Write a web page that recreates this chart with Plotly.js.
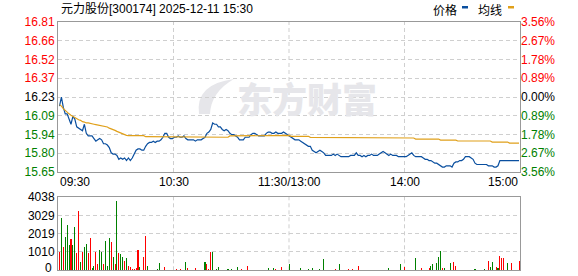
<!DOCTYPE html>
<html><head><meta charset="utf-8">
<script src="https://cdn.plot.ly/plotly-3.0.1.min.js"></script>
<style>html,body{margin:0;padding:0;background:#fff}#chart{width:578px;height:276px}</style>
</head><body><div id="chart"></div>
<script>
// ---------------- data ----------------
const chartTitle = '元力股份[300174] 2025-12-11 15:30';
const preClose = 16.23;
const pctTicks = [3.56, 2.67, 1.78, 0.89, 0, -0.89, -1.78, -2.67, -3.56];
const priceTickText = ['16.81','16.66','16.52','16.37','16.23','16.09','15.94','15.80','15.65'];
const pctTickText = ['3.56%','2.67%','1.78%','0.89%','0.00%','0.89%','1.78%','2.67%','3.56%'];
const volTicks = [0, 1010, 2019, 3029, 4038];
const volTickText = ['0','1010','2019','3029','4038'];
const timeLabels = ['09:30','10:30','11:30/13:00','14:00','15:00'];
const legendNames = ['价格','均线'];

const price = [
16.16,16.23,16.15,16.10,16.10,16.05,16.02,16.08,16.06,16.00,
15.99,15.98,15.97,16.02,15.95,15.93,15.93,15.93,15.91,15.89,
15.90,15.91,15.90,15.87,15.87,15.86,15.84,15.80,15.79,15.79,
15.78,15.75,15.76,15.75,15.76,15.74,15.76,15.74,15.76,15.79,
15.82,15.83,15.83,15.82,15.82,15.85,15.87,15.88,15.88,15.89,
15.88,15.89,15.89,15.90,15.92,15.95,15.95,15.92,15.91,15.91,
15.92,15.92,15.93,15.92,15.92,15.93,15.91,15.90,15.90,15.90,
15.90,15.89,15.90,15.90,15.90,15.91,15.92,15.95,15.96,15.98,
16.03,16.02,16.02,16.00,16.00,15.98,15.97,15.98,15.97,15.95,
15.94,15.94,15.93,15.92,15.90,15.90,15.90,15.92,15.92,15.92,
15.94,15.95,15.95,15.94,15.93,15.93,15.93,15.93,15.95,15.96,
15.96,15.95,15.95,15.96,15.95,15.95,15.95,15.96,15.95,15.94,
15.93,15.92,15.91,15.90,15.90,15.90,15.89,15.88,15.87,15.86,
15.85,15.85,15.82,15.81,15.80,15.81,15.82,15.81,15.80,15.78,
15.78,15.78,15.78,15.79,15.78,15.79,15.78,15.77,15.77,15.77,
15.77,15.77,15.78,15.78,15.78,15.80,15.78,15.78,15.77,
15.78,15.77,15.78,15.78,15.79,15.78,15.78,15.78,15.79,15.80,
15.81,15.80,15.79,15.78,15.79,15.78,15.78,15.78,15.77,15.77,
15.77,15.77,15.77,15.78,15.79,15.80,15.78,15.77,15.77,15.77,
15.77,15.76,15.75,15.75,15.74,15.74,15.73,15.72,15.72,15.71,
15.70,15.69,15.69,15.70,15.70,15.70,15.69,15.72,15.73,15.73,
15.74,15.74,15.75,15.77,15.77,15.77,15.76,15.75,15.72,15.71,
15.71,15.71,15.71,15.71,15.71,15.70,15.70,15.70,15.69,15.69,
15.70,15.74,15.74,15.74,15.74,15.74,15.74,15.74,15.74,15.74,
15.74,15.74
];

const avgPrice = [
16.17,16.16,16.14,16.125,16.11,16.10,16.09,16.08,16.07,16.063,
16.055,16.05,16.04,16.037,16.03,16.03,16.025,16.02,16.02,16.017,
16.014,16.012,16.01,16.004,16.00,15.999,15.99,15.986,15.98,15.973,
15.965,15.958,15.95,15.942,15.937,15.934,
15.932,15.932,15.932,15.932,15.932,15.932,15.932,15.932,15.932,
15.924,15.924,15.924,15.924,15.924,15.924,15.924,15.924,15.924,15.924,15.924,15.924,15.924,15.924,15.924,
15.92,15.92,15.92,15.92,15.92,15.92,15.92,15.92,15.92,15.92,
15.92,15.92,15.92,15.92,15.92,15.92,15.92,15.92,15.92,15.92,
15.92,15.92,15.92,15.92,15.92,15.92,15.92,15.92,15.92,
15.93,15.93,15.93,15.93,15.93,15.93,15.93,15.93,15.93,15.93,
15.93,15.93,15.93,15.93,15.93,15.93,15.93,15.93,15.93,15.93,15.93,
15.934,15.934,15.934,15.934,15.934,15.934,15.934,15.934,15.934,15.934,15.934,
15.927,15.927,15.927,15.927,15.927,15.927,15.927,15.927,15.927,15.927,
15.919,15.919,15.919,15.919,15.919,15.919,15.919,15.919,15.919,15.919,15.919,15.919,
15.919,15.919,15.919,15.919,15.919,15.919,15.919,15.919,15.919,15.919,15.919,15.919,
15.914,15.914,15.914,15.914,15.914,15.914,15.914,15.914,15.914,15.914,
15.914,15.914,15.914,15.914,15.914,15.914,15.914,15.914,15.914,15.914,
15.914,15.914,15.914,15.914,15.914,15.914,15.914,15.914,15.914,15.914,15.914,
15.906,15.906,15.906,15.906,15.906,15.906,15.906,15.906,15.906,15.906,15.906,15.906,15.906,
15.898,15.898,15.898,15.898,15.898,15.898,15.898,15.898,15.898,
15.891,15.891,15.891,15.891,15.891,15.891,15.891,15.891,15.891,
15.891,15.891,15.891,15.891,15.891,15.891,15.891,15.891,15.891,
15.883,15.883,15.883,15.883,15.883,15.883,15.883,15.883,15.883,
15.875,15.875,15.875,15.875,15.875,15.875
];

const volume = [
1030,2900,1310,1830,2490,1380,1700,1380,2390,970,
3290,430,990,1270,1440,935,1780,150,260,990,
320,1100,990,320,1610,260,1780,1550,710,320,
3800,935,880,710,490,655,260,205,94,94,
150,1100,205,37,710,1890,260,37,37,
37,37,94,375,37,37,205,37,37,37,
37,37,94,37,94,37,37,430,150,37,
37,37,150,37,37,37,37,430,320,94,
990,990,37,94,205,37,37,37,37,94,
37,94,37,37,205,37,94,37,37,260,37,37,
37,
37,37,37,37,37,37,37,150,37,37,
150,94,37,37,205,37,37,37,320,37,
37,37,37,37,150,37,37,37,94,37,
150,37,37,37,94,37,600,37,37,37,
37,37,94,37,320,37,37,37,37,94,
37,94,37,37,260,37,
37,37,37,37,37,
37,37,37,37,37,37,37,37,37,150,
37,37,37,37,37,320,37,205,37,37,
37,37,37,655,37,37,150,37,37,37,
150,260,320,37,375,710,1050,150,150,37,
37,375,37,430,260,37,37,37,37,37,
37,
37,37,37,94,37,37,37,37,94,37,
490,205,430,37,205,150,770,655,655,37,
375,37,375,37,37,37,490
];

// r = up (red), g = down (green)
const volDir = (
'rgrgggrggr'+'rgrggrrggr'+'rggrgggrgr'+'grggrgrrrr'+'rrgrrrgg'+'g'+'ggggrrrggg'+'rgrgrrrgrg'+'ggrrrrrgrr'+
'rggggrrrgg'+'rgrrgrrggrgg'+'g'+'grgrrrrgrr'+'grggrgrggg'+'gggggggggr'+'grrrgrgrrr'+'rrrrgrrrrr'+'rrrgrg'+
'rrrr'+'r'+'gggrrrrrrg'+'ggrrrgrrrr'+'rrrgrrrggr'+'rggrgggrgr'+'rgrrrrrrrr'+'r'+'rrrggrgrgr'+'rggrrgrrrr'+'grrrrrr'
).split('');

// ---------------- drawing ----------------
const UP = '#ff0000', DOWN = '#008000', FLAT = '#000000';
const BLUE = '#0a4f9f', ORANGE = '#e0a01a';
const W = 578, H = 276;
const minutes = price.map((_, i) => i);
const hi = preClose * (1 + pctTicks[0] / 100);
const lo = preClose * (1 + pctTicks[pctTicks.length - 1] / 100);
const priceTickVals = pctTicks.map(p => preClose * (1 + p / 100));
const tickColor = p => p > 0 ? UP : (p < 0 ? DOWN : FLAT);
const span = (t, c) => '<span style="color:' + c + '">' + t + '</span>';

const xr = [-0.78, 240.5];
const L = 58 / W, R = 520 / W;
const pyTop = 22, pyBot = 172, vyTop = 197, vyBot = 270.3;
const px = x => x / W, py = y => 1 - y / H;

const traces = [
  {x: minutes, y: price, type: 'scatter', mode: 'lines', xaxis: 'x', yaxis: 'y',
   line: {color: BLUE, width: 1.2}, hoverinfo: 'skip'},
  {x: minutes, y: avgPrice, type: 'scatter', mode: 'lines', xaxis: 'x', yaxis: 'y2',
   line: {color: ORANGE, width: 1.2}, hoverinfo: 'skip'},
  {x: minutes, y: volume, type: 'bar', xaxis: 'x2', yaxis: 'y3', width: 0.55,
   marker: {color: volDir.map(d => d === 'r' ? UP : DOWN), line: {width: 0}}, hoverinfo: 'skip'}
];

const gridCol = '#cfcfcf', borderCol = '#999999', dash = '4px,3px';
const axisFont = {family: 'Liberation Sans, Arial, sans-serif', size: 12, color: '#000'};

const vLines = [0.25, 0.5, 0.75];
const shapes = [];
vLines.forEach(f => {
  shapes.push({type: 'line', xref: 'x domain', yref: 'y domain', x0: f, x1: f, y0: 0, y1: 1,
    line: {color: gridCol, width: 1, dash: dash}, layer: 'below'});
  shapes.push({type: 'line', xref: 'x2 domain', yref: 'y3 domain', x0: f, x1: f, y0: 0, y1: 1,
    line: {color: gridCol, width: 1, dash: dash}, layer: 'below'});
});
// legend swatches
shapes.push({type: 'rect', xref: 'paper', yref: 'paper', x0: px(462), x1: px(468), y0: py(8.5), y1: py(6), fillcolor: BLUE, line: {width: 0}});
shapes.push({type: 'rect', xref: 'paper', yref: 'paper', x0: px(508), x1: px(514), y0: py(8.5), y1: py(6), fillcolor: ORANGE, line: {width: 0}});
// watermark swoosh
const P = (x, y) => px(x).toFixed(4) + ',' + py(y).toFixed(4);
shapes.push({type: 'path', xref: 'paper', yref: 'paper', layer: 'below',
  path: 'M' + P(199, 114) + ' Q' + P(195, 84) + ' ' + P(234, 79) + ' Q' + P(211, 92) + ' ' + P(210, 114) + ' Z',
  fillcolor: '#e6e6ea', line: {width: 0}});

const annotations = [];
annotations.push({text: chartTitle, xref: 'paper', yref: 'paper', x: px(59), y: py(8.5), xanchor: 'left', yanchor: 'middle',
  showarrow: false, font: {family: 'Liberation Sans, Noto Sans CJK SC, sans-serif', size: 12, color: '#000'}});
annotations.push({text: legendNames[0], xref: 'paper', yref: 'paper', x: px(431), y: py(9), xanchor: 'left', yanchor: 'middle',
  showarrow: false, font: {family: 'Noto Sans CJK SC, sans-serif', size: 12, color: '#000'}});
annotations.push({text: legendNames[1], xref: 'paper', yref: 'paper', x: px(476), y: py(9), xanchor: 'left', yanchor: 'middle',
  showarrow: false, font: {family: 'Noto Sans CJK SC, sans-serif', size: 12, color: '#000'}});
annotations.push({text: '东方财富', xref: 'paper', yref: 'paper', x: px(307), y: py(97), xanchor: 'center', yanchor: 'middle',
  showarrow: false, font: {family: 'Noto Sans CJK SC, sans-serif', size: 35, color: '#e6e6ea', weight: 900}});
const tPos = [0, 0.25, 0.5, 0.75, 1], tAnc = ['left', 'center', 'center', 'center', 'right'];
timeLabels.forEach((t, k) => annotations.push({text: t, xref: 'x domain', yref: 'paper', x: tPos[k], y: py(181.5),
  xanchor: tAnc[k], yanchor: 'middle', showarrow: false, font: axisFont}));
// base label of the volume axis, kept fully inside the picture
annotations.push({text: volTickText[0], xref: 'paper', yref: 'paper', x: px(53), y: 0, xanchor: 'right', yanchor: 'bottom',
  showarrow: false, borderpad: 0, font: axisFont});

const layout = {
  width: W, height: H, margin: {l: 0, r: 0, t: 0, b: 0},
  paper_bgcolor: '#ffffff', plot_bgcolor: '#ffffff', showlegend: false, bargap: 0,
  font: axisFont,
  xaxis: {domain: [L, R], range: xr, anchor: 'y', showgrid: false, zeroline: false, showticklabels: false,
    ticks: '', showline: true, mirror: true, linecolor: borderCol, linewidth: 1, fixedrange: true},
  yaxis: {domain: [py(pyBot), py(pyTop)], range: [lo, hi], tickmode: 'array', tickvals: priceTickVals,
    ticktext: priceTickText.map((t, k) => span(t, tickColor(pctTicks[k]))), showgrid: true, gridcolor: gridCol,
    griddash: dash, zeroline: false, showline: true, mirror: true, linecolor: borderCol, linewidth: 1, ticks: '',
    tickfont: axisFont, fixedrange: true},
  yaxis2: {overlaying: 'y', side: 'right', anchor: 'x', range: [lo, hi], tickmode: 'array', tickvals: priceTickVals,
    ticktext: pctTickText.map((t, k) => span(t, tickColor(pctTicks[k]))), showgrid: false, zeroline: false,
    showline: false, ticks: '', tickfont: axisFont, fixedrange: true},
  xaxis2: {domain: [L, R], range: xr, anchor: 'y3', showgrid: false, zeroline: false, showticklabels: false,
    ticks: '', showline: true, mirror: true, linecolor: borderCol, linewidth: 1, fixedrange: true},
  yaxis3: {domain: [py(vyBot), py(vyTop)], range: [0, volTicks[volTicks.length - 1]], tickmode: 'array',
    tickvals: volTicks.slice(1), ticktext: volTickText.slice(1), showgrid: true, gridcolor: gridCol, griddash: dash,
    zeroline: false, showline: true, mirror: true, linecolor: borderCol, linewidth: 1, ticks: '', tickfont: axisFont,
    fixedrange: true},
  shapes: shapes, annotations: annotations
};

Plotly.newPlot('chart', traces, layout, {displayModeBar: false, staticPlot: true});
</script></body></html>
